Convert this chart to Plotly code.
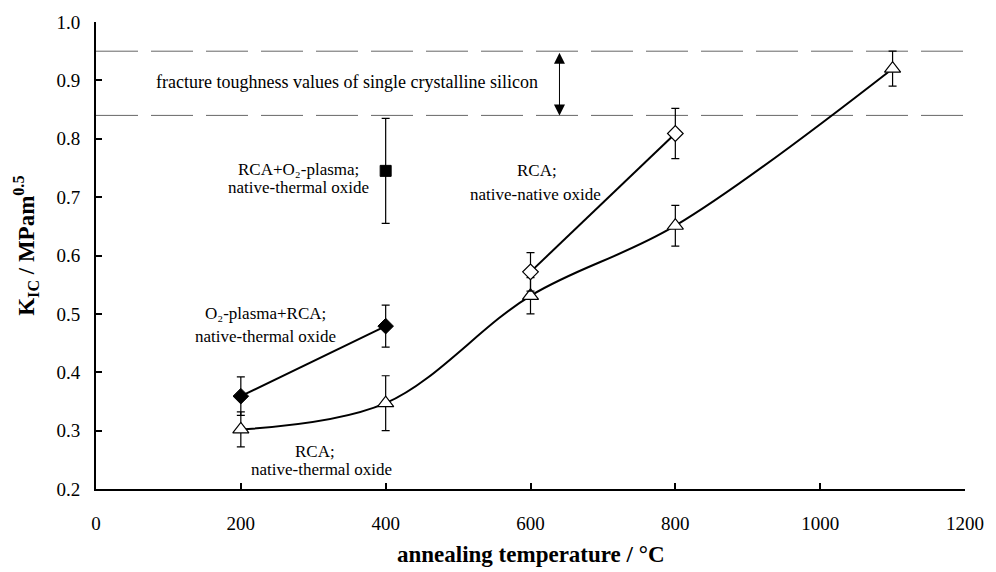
import plotly.graph_objects as go

# ---------------- data ----------------
x_ticks = [0, 200, 400, 600, 800, 1000, 1200]
y_ticks = [0.2, 0.3, 0.4, 0.5, 0.6, 0.7, 0.8, 0.9, 1.0]

# RCA; native-thermal oxide (open triangles, smoothed line)
tri_x = [200, 400, 600, 800, 1100]
tri_y = [0.302, 0.347, 0.531, 0.651, 0.920]
tri_err = [0.030, 0.047, 0.031, 0.035, 0.030]

# O2-plasma+RCA; native-thermal oxide (filled diamonds)
fdia_x = [200, 400]
fdia_y = [0.359, 0.479]
fdia_err = [0.033, 0.036]

# RCA; native-native oxide (open diamonds)
odia_x = [600, 800]
odia_y = [0.572, 0.809]
odia_err = [0.033, 0.043]

# RCA+O2-plasma; native-thermal oxide (filled square)
sq_x = [400]
sq_y = [0.745]
sq_err = [0.090]

# single crystalline silicon band
si_band = [0.84, 0.95]

SERIF = "Liberation Serif, Times New Roman, serif"

fig = go.Figure()

err_style = dict(type="data", visible=True, color="black", thickness=1.2, width=4)

fig.add_trace(go.Scatter(
    x=tri_x, y=tri_y, mode="lines+markers",
    line=dict(color="black", width=2, shape="spline", smoothing=1.0),
    marker=dict(symbol="triangle-up", size=14, color="white",
                line=dict(color="black", width=1.2)),
    error_y=dict(array=tri_err, **err_style), showlegend=False))

fig.add_trace(go.Scatter(
    x=fdia_x, y=fdia_y, mode="lines+markers",
    line=dict(color="black", width=2),
    marker=dict(symbol="diamond", size=12, color="black",
                line=dict(color="black", width=1)),
    error_y=dict(array=fdia_err, **err_style), showlegend=False))

fig.add_trace(go.Scatter(
    x=odia_x, y=odia_y, mode="lines+markers",
    line=dict(color="black", width=2),
    marker=dict(symbol="diamond", size=12, color="white",
                line=dict(color="black", width=1.2)),
    error_y=dict(array=odia_err, **err_style), showlegend=False))

fig.add_trace(go.Scatter(
    x=sq_x, y=sq_y, mode="markers",
    marker=dict(symbol="square", size=11, color="black",
                line=dict(color="black", width=1)),
    error_y=dict(array=sq_err, **err_style), showlegend=False))

# dashed band lines
for v in si_band:
    fig.add_shape(type="line", xref="x", yref="y", x0=0, x1=1200, y0=v, y1=v,
                  line=dict(color="#666666", width=1, dash="42px,13px"), layer="below")

# double-headed arrow
fig.add_annotation(x=640, y=si_band[0], ax=640, ay=si_band[1], xref="x", yref="y",
                   axref="x", ayref="y", text="", showarrow=True,
                   arrowhead=2, startarrowhead=2, arrowside="end+start",
                   arrowsize=2.2, startarrowsize=2.2, arrowwidth=1, arrowcolor="black")


def lab(x, y, t, size=17):
    fig.add_annotation(x=x, y=y, xref="x", yref="y", text=t, showarrow=False,
                       xanchor="center", yanchor="middle",
                       font=dict(family=SERIF, size=size, color="black"))


lab(347, 0.897, "fracture toughness values of single crystalline silicon", 18)
lab(279, 0.748, "RCA+O₂-plasma;")
lab(280, 0.716, "native-thermal oxide")
lab(234, 0.500, "O₂-plasma+RCA;")
lab(234, 0.461, "native-thermal oxide")
lab(302, 0.264, "RCA;")
lab(312, 0.233, "native-thermal oxide")
lab(609, 0.746, "RCA;")
lab(607, 0.705, "native-native oxide")

# axis titles
fig.add_annotation(x=0.5, y=-0.14, xref="paper", yref="paper", yanchor="middle",
                   text="<b>annealing temperature / °C</b>", showarrow=False,
                   font=dict(family=SERIF, size=23, color="black"))
fig.add_annotation(x=-0.081, y=0.52, xref="paper", yref="paper", xanchor="center",
                   yanchor="middle", textangle=-90,
                   text="<b>K<sub>IC</sub> / MPam<sup>0.5</sup></b>", showarrow=False,
                   font=dict(family=SERIF, size=23, color="black"))

fig.update_xaxes(range=[0, 1200], tickvals=x_ticks, ticktext=[str(v) for v in x_ticks],
                 ticks="inside", ticklen=6, tickwidth=1.5, tickcolor="black",
                 showline=True, linecolor="black", linewidth=2, showgrid=False,
                 zeroline=False, ticklabelstandoff=16,
                 tickfont=dict(family=SERIF, size=19, color="black"))
fig.update_yaxes(range=[0.2, 1.0], tickvals=y_ticks, ticktext=[f"{v:.1f}" for v in y_ticks],
                 ticks="inside", ticklen=6, tickwidth=1.5, tickcolor="black",
                 showline=True, linecolor="black", linewidth=2, showgrid=False,
                 zeroline=False, ticklabelstandoff=10,
                 tickfont=dict(family=SERIF, size=19, color="black"))

fig.update_layout(width=996, height=572, margin=dict(l=96, r=24, t=14, b=83),
                  paper_bgcolor="white", plot_bgcolor="white", showlegend=False)

fig.write_html("out.html")
